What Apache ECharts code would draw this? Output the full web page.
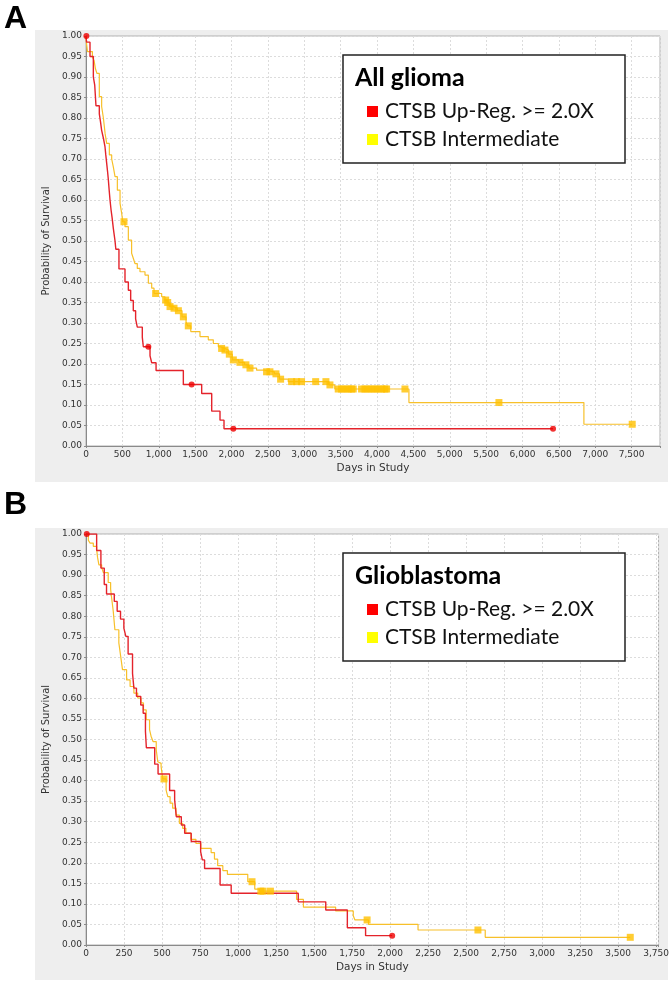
<!DOCTYPE html>
<html>
<head>
<meta charset="utf-8">
<script src="https://cdn.jsdelivr.net/npm/echarts@6/dist/echarts.min.js"></script>
<style>html,body{margin:0;padding:0;background:#fff}#c{width:672px;height:985px}</style>
</head>
<body>
<div id="c"></div>
<script>
// ---------- Panel A : All glioma ----------
const A_UP_T = [0, 8, 55, 101, 120, 137, 183, 200, 215, 240, 261, 272, 284, 296, 307, 318, 330, 345, 360, 376, 399, 410, 453, 536, 582, 614, 650, 682, 705, 774, 788, 880, 903, 963, 1338, 1590, 1728, 1842, 1897, 6420];
const A_UP_S = [1.00, 0.985, 0.950, 0.900, 0.880, 0.830, 0.810, 0.790, 0.770, 0.750, 0.730, 0.710, 0.690, 0.670, 0.650, 0.625, 0.600, 0.575, 0.555, 0.530, 0.500, 0.480, 0.432, 0.400, 0.380, 0.355, 0.330, 0.310, 0.290, 0.265, 0.242, 0.220, 0.203, 0.184, 0.150, 0.128, 0.085, 0.063, 0.042, 0.042];
const A_UP_CT = [5, 857, 1452, 2025, 6420];
const A_UP_CS = [1.00, 0.242, 0.150, 0.042, 0.042];

const A_INT_T = [0, 5, 20, 88, 111, 130, 150, 183, 215, 239, 262, 284, 321, 353, 376, 399, 431, 468, 490, 505, 536, 582, 627, 650, 673, 705, 742, 811, 857, 903, 935, 1040, 1085, 1115, 1145, 1200, 1255, 1320, 1375, 1395, 1440, 1567, 1681, 1750, 1819, 1850, 1900, 1960, 2010, 2100, 2180, 2240, 2345, 2450, 2590, 2660, 2780, 3340, 3420, 4439, 6844, 7508];
const A_INT_S = [1.00, 0.985, 0.962, 0.948, 0.940, 0.920, 0.909, 0.852, 0.828, 0.800, 0.763, 0.738, 0.710, 0.700, 0.680, 0.657, 0.624, 0.592, 0.568, 0.547, 0.535, 0.502, 0.470, 0.458, 0.445, 0.433, 0.425, 0.417, 0.397, 0.385, 0.372, 0.364, 0.356, 0.350, 0.340, 0.336, 0.330, 0.315, 0.303, 0.293, 0.279, 0.267, 0.259, 0.250, 0.242, 0.238, 0.234, 0.224, 0.210, 0.204, 0.198, 0.190, 0.185, 0.181, 0.176, 0.163, 0.157, 0.149, 0.139, 0.106, 0.053, 0.053];
const A_INT_CT = [522, 957, 1095, 1123, 1155, 1210, 1270, 1338, 1406, 1864, 1910, 1970, 2025, 2116, 2198, 2254, 2482, 2528, 2611, 2675, 2826, 2895, 2963, 3157, 3298, 3353, 3467, 3513, 3559, 3605, 3650, 3673, 3788, 3834, 3880, 3926, 3971, 4017, 4063, 4109, 4132, 4384, 5676, 7508];
const A_INT_CS = [0.547, 0.372, 0.356, 0.350, 0.340, 0.336, 0.330, 0.315, 0.293, 0.238, 0.234, 0.224, 0.210, 0.204, 0.198, 0.190, 0.181, 0.181, 0.176, 0.163, 0.157, 0.157, 0.157, 0.157, 0.157, 0.149, 0.139, 0.139, 0.139, 0.139, 0.139, 0.139, 0.139, 0.139, 0.139, 0.139, 0.139, 0.139, 0.139, 0.139, 0.139, 0.139, 0.106, 0.053];

// ---------- Panel B : Glioblastoma ----------
const B_UP_T = [0, 70, 98, 120, 135, 186, 205, 227, 249, 262, 277, 306, 315, 332, 360, 376, 391, 397, 452, 474, 550, 583, 594, 627, 649, 692, 754, 765, 780, 882, 955, 1396, 1577, 1719, 1839, 2014];
const B_UP_S = [1.00, 0.960, 0.917, 0.877, 0.854, 0.836, 0.812, 0.793, 0.771, 0.751, 0.708, 0.661, 0.625, 0.605, 0.584, 0.564, 0.520, 0.480, 0.440, 0.416, 0.376, 0.353, 0.312, 0.292, 0.272, 0.252, 0.227, 0.207, 0.186, 0.146, 0.126, 0.105, 0.085, 0.042, 0.0227, 0.0227];
const B_UP_CT = [5, 2014];
const B_UP_CS = [1.00, 0.0227];

const B_INT_T = [0, 15, 26, 48, 70, 76, 85, 103, 114, 146, 162, 168, 179, 190, 216, 228, 240, 267, 290, 315, 340, 362, 378, 396, 418, 428, 441, 462, 472, 480, 494, 505, 527, 538, 553, 570, 592, 614, 636, 657, 690, 723, 755, 823, 845, 866, 900, 930, 1064, 1110, 1140, 1385, 1430, 1642, 1758, 1769, 1858, 2184, 2626, 3580];
const B_INT_S = [1.00, 0.985, 0.978, 0.970, 0.963, 0.943, 0.925, 0.919, 0.906, 0.882, 0.866, 0.846, 0.813, 0.767, 0.735, 0.703, 0.670, 0.645, 0.629, 0.613, 0.601, 0.589, 0.572, 0.548, 0.524, 0.508, 0.495, 0.475, 0.446, 0.442, 0.434, 0.404, 0.377, 0.361, 0.345, 0.333, 0.316, 0.296, 0.284, 0.272, 0.257, 0.247, 0.235, 0.225, 0.209, 0.193, 0.181, 0.172, 0.154, 0.136, 0.131, 0.111, 0.092, 0.083, 0.071, 0.061, 0.050, 0.0365, 0.0187, 0.0187];
const B_INT_CT = [513, 1092, 1150, 1165, 1213, 1849, 2578, 3580];
const B_INT_CS = [0.404, 0.154, 0.131, 0.131, 0.131, 0.061, 0.0365, 0.0187];

// ---------- Labels ----------
const SERIES_NAMES = ['CTSB Up-Reg. >= 2.0X', 'CTSB Intermediate'];
const PANEL_TITLES = ['All glioma', 'Glioblastoma'];
const PANEL_LETTERS = ['A', 'B'];
const X_NAME = 'Days in Study';
const Y_NAME = 'Probability of Survival';
const X_MAX = [7890, 3766];
const X_STEP = [500, 250];

const zip = (t, s) => t.map((v, i) => [v, s[i]]);
const withComma = v => String(v).replace(/\B(?=(\d{3})+(?!\d))/g, ',');

const RED_LINE = '#e4232b', YEL_LINE = '#f7c02a', RED_PT = '#ee0000', YEL_PT = '#ffc000';
const TICK_FONT = 'DejaVu Sans';

const grids = [
  {left: 86, top: 36, width: 574, height: 410},
  {left: 86, top: 534, width: 574.5, height: 411}
];

function xAxis(i) {
  return {
    gridIndex: i, type: 'value', min: 0, max: X_MAX[i], interval: X_STEP[i],
    name: X_NAME, nameLocation: 'middle', nameGap: 17,
    nameTextStyle: {fontFamily: TICK_FONT, fontSize: 10.5, color: '#333'},
    axisLine: {show: true, onZero: false, lineStyle: {color: '#8a8a8a', width: 1}},
    axisTick: {show: true, length: 2, lineStyle: {color: '#8a8a8a'}},
    axisLabel: {fontFamily: TICK_FONT, fontSize: 9, color: '#333', margin: 4,
      formatter: v => (Math.round(v) % X_STEP[i] === 0 ? withComma(Math.round(v)) : '')},
    splitLine: {show: true, lineStyle: {color: '#dcdcdc', type: [2, 2], width: 1}}
  };
}
function yAxis(i) {
  return {
    gridIndex: i, type: 'value', min: 0, max: 1, interval: 0.05,
    name: Y_NAME, nameLocation: 'middle', nameGap: 30, nameRotate: 90,
    nameTextStyle: {fontFamily: TICK_FONT, fontSize: 10, color: '#333'},
    axisLine: {show: true, onZero: false, lineStyle: {color: '#8a8a8a', width: 1}},
    axisTick: {show: true, length: 2, lineStyle: {color: '#8a8a8a'}},
    axisLabel: {fontFamily: TICK_FONT, fontSize: 9, color: '#333', margin: 4,
      formatter: v => v.toFixed(2)},
    splitLine: {show: true, lineStyle: {color: '#dcdcdc', type: [2, 2], width: 1}}
  };
}

function lineSeries(name, i, t, s, color, w) {
  return {type: 'line', name, xAxisIndex: i, yAxisIndex: i, data: zip(t, s), step: 'end',
    symbol: 'none', showSymbol: false, silent: true,
    lineStyle: {color, width: w}, itemStyle: {color}, z: 3};
}
function censorSeries(name, i, t, s, symbol, size, color) {
  return {type: 'scatter', name, xAxisIndex: i, yAxisIndex: i, data: zip(t, s),
    symbol, symbolSize: size, silent: true, itemStyle: {color}, z: 4};
}

const series = [
  lineSeries(SERIES_NAMES[1], 0, A_INT_T, A_INT_S, YEL_LINE, 1.2),
  lineSeries(SERIES_NAMES[0], 0, A_UP_T, A_UP_S, RED_LINE, 1.4),
  censorSeries('A intermediate censored', 0, A_INT_CT, A_INT_CS, 'rect', 7, YEL_PT),
  censorSeries('A up-reg censored', 0, A_UP_CT, A_UP_CS, 'circle', 6, RED_PT),
  lineSeries(SERIES_NAMES[1], 1, B_INT_T, B_INT_S, YEL_LINE, 1.2),
  lineSeries(SERIES_NAMES[0], 1, B_UP_T, B_UP_S, RED_LINE, 1.4),
  censorSeries('B intermediate censored', 1, B_INT_CT, B_INT_CS, 'rect', 7, YEL_PT),
  censorSeries('B up-reg censored', 1, B_UP_CT, B_UP_CS, 'circle', 6, RED_PT)
];

const boxTop = [55, 553];
function legend(i) {
  return {
    selectedMode: false, orient: 'vertical', left: 362, top: boxTop[i] + 41,
    icon: 'rect', itemWidth: 11, itemHeight: 11, itemGap: 7,
    textStyle: {fontFamily: 'Lato', fontSize: 21, color: '#111', lineHeight: 21, padding: [0, 0, 0, 2]},
    data: [
      {name: SERIES_NAMES[0], itemStyle: {color: '#ff0000', borderWidth: 0}},
      {name: SERIES_NAMES[1], itemStyle: {color: '#ffff00', borderWidth: 0}}
    ],
    z: 6
  };
}

const panelTop = [30, 528];
const graphic = [];
[0, 1].forEach(i => {
  graphic.push({type: 'rect', z: -10, shape: {x: 35, y: panelTop[i], width: 633, height: 452},
    style: {fill: '#eeeeee'}, silent: true});
  graphic.push({type: 'rect', z: 5, shape: {x: 343, y: boxTop[i], width: 282, height: 108},
    style: {fill: '#ffffff', stroke: '#222', lineWidth: 1.5}, silent: true});
  graphic.push({type: 'text', z: 6, x: 355, y: boxTop[i] + 23,
    style: {text: PANEL_TITLES[i], font: 'bold 25px Lato', fill: '#000', textVerticalAlign: 'middle'}, silent: true});
  graphic.push({type: 'text', z: 6, x: 4, y: [19, 505][i],
    style: {text: PANEL_LETTERS[i], font: 'bold 32px "Liberation Sans"', fill: '#000', textVerticalAlign: 'middle'}, silent: true});
});

const chart = echarts.init(document.getElementById('c'), null, {renderer: 'canvas'});
chart.setOption({
  animation: false,
  backgroundColor: '#ffffff',
  grid: grids.map(g => Object.assign({show: true, backgroundColor: '#ffffff', borderColor: '#b0b0b0', borderWidth: 1}, g)),
  xAxis: [xAxis(0), xAxis(1)],
  yAxis: [yAxis(0), yAxis(1)],
  legend: [legend(0), legend(1)],
  graphic,
  series
});
</script>
</body>
</html>
